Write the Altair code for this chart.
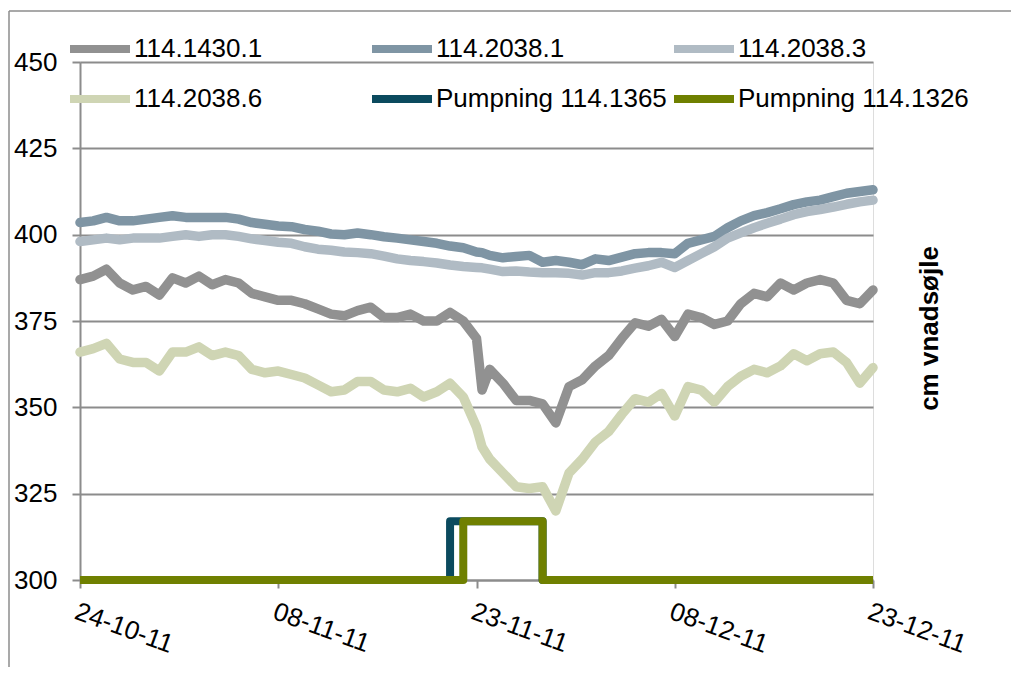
import altair as alt
import pandas as pd

START = "2011-10-24"

# day offsets from 24-10-11 of the readings
DAYS = [0, 1, 2, 3, 4, 5, 6, 7, 8, 9, 10, 11, 12, 13, 14, 15, 16, 17, 18, 19, 20,
        21, 22, 23, 24, 25, 26, 27, 28, 29, 30, 30.42, 31, 32, 33, 34, 35, 36, 37,
        38, 39, 40, 41, 42, 43, 44, 45, 46, 47, 48, 49, 50, 51, 52, 53, 54, 55, 56,
        57, 58, 59, 60]

S_1430_1 = [387, 388, 390, 386, 384, 385, 382.5, 387.5, 386, 388, 385.5, 387, 386, 383,
            382, 381, 381, 380, 378.5, 377, 376.5, 378, 379, 376, 376, 377, 375, 375,
            377.5, 375, 370, 355, 361, 357, 352, 352, 351, 345.5, 356, 358, 362, 365,
            370, 374.5, 373.5, 375.5, 370.5, 377, 376, 374, 375, 380, 383, 382, 386,
            384, 386, 387, 386, 381, 380, 384]

S_2038_1 = [403.5, 404, 405, 404, 404, 404.5, 405, 405.5, 405, 405, 405, 405, 404.5,
            403.5, 403, 402.5, 402.3, 401.5, 401, 400.2, 400, 400.5, 400, 399.4, 399,
            398.5, 398, 397.5, 396.7, 396.2, 395, 394.8, 394, 393.3, 393.7, 394, 392,
            392.5, 392, 391.3, 393, 392.5, 393.5, 394.5, 394.8, 394.8, 394.5, 397.5,
            398.5, 399.5, 402, 404, 405.5, 406.4, 407.5, 408.7, 409.5, 410, 411, 412,
            412.5, 413]

S_2038_3 = [398, 398.5, 399, 398.5, 399, 399, 399, 399.5, 400, 399.5, 400, 400, 399.5,
            398.8, 398.3, 397.8, 397.5, 396.5, 395.8, 395.5, 395, 394.8, 394.5, 393.8,
            393, 392.5, 392.2, 391.8, 391.2, 390.8, 390.5, 390.4, 390, 389.3, 389.5,
            389.2, 389, 389, 388.8, 388.3, 389, 389, 389.5, 390.3, 391, 392, 390.5,
            392.5, 394.5, 396.5, 399, 400.5, 402, 403.3, 404.5, 405.8, 406.7, 407.3,
            408, 408.8, 409.5, 410]

S_2038_6 = [366, 367, 368.5, 364, 363, 363, 360.5, 366, 366, 367.5, 365, 366, 365, 361,
            360, 360.5, 359.5, 358.5, 356.5, 354.5, 355, 357.5, 357.5, 355, 354.5,
            355.5, 353, 354.5, 357, 353, 344.3, 338.5, 335, 331, 327, 326.5, 327, 320,
            331, 335, 340, 343, 348, 352.5, 351.5, 354, 347.5, 356, 355, 351.5, 356,
            359, 361, 360, 362, 365.5, 363.5, 365.5, 366, 363, 357, 361.5]

PUMP_1365_DAYS = [0, 28, 35, 60]
PUMP_1365 = [300, 317, 300, 300]
PUMP_1326_DAYS = [0, 29, 35, 60]
PUMP_1326 = [300, 317, 300, 300]

NAMES = ["114.1430.1", "114.2038.1", "114.2038.3", "114.2038.6",
         "Pumpning 114.1365", "Pumpning 114.1326"]
COLORS = ["#919191", "#7f95a4", "#b0bbc4", "#cfd5b4", "#0b4a5e", "#6f8000"]

Y_TICKS = [300, 325, 350, 375, 400, 425, 450]

FONT = "Liberation Sans"
GRID = "#8c8c8c"

t0 = pd.Timestamp(START)


def to_dates(days):
    return [t0 + pd.Timedelta(days=d) for d in days]


rows = []
for name, vals in zip(NAMES[:4], [S_1430_1, S_2038_1, S_2038_3, S_2038_6]):
    for dt, v in zip(to_dates(DAYS), vals):
        rows.append({"date": dt, "value": v, "series": name, "k": NAMES.index(name)})
meas = pd.DataFrame(rows)

prow = []
for name, ds, vals in [(NAMES[4], PUMP_1365_DAYS, PUMP_1365), (NAMES[5], PUMP_1326_DAYS, PUMP_1326)]:
    for dt, v in zip(to_dates(ds), vals):
        prow.append({"date": dt, "value": v, "series": name, "k": NAMES.index(name)})
pump = pd.DataFrame(prow)


def D(y, m, d):
    return alt.DateTime(year=y, month=m, date=d)


x = alt.X(
    "date:T",
    scale=alt.Scale(domain=[D(2011, 10, 24), D(2011, 12, 23)]),
    axis=alt.Axis(
        values=[D(2011, 10, 24), D(2011, 11, 8), D(2011, 11, 23), D(2011, 12, 8), D(2011, 12, 23)],
        format="%d-%m-%y", labelAngle=20, labelAlign="left", labelBaseline="top",
        labelPadding=10, tickSize=8, grid=False, domainColor=GRID, tickColor=GRID,
        domainWidth=2, tickWidth=2, labelOverlap=False, labelFontSize=26,
        labelFont=FONT, labelColor="#000000", title=None, labelBound=False,
    ),
)
y = alt.Y(
    "value:Q",
    scale=alt.Scale(domain=[300, 450], nice=False, zero=False),
    axis=alt.Axis(
        values=Y_TICKS, tickSize=8, labelPadding=15, grid=True, gridColor=GRID,
        gridWidth=2, domainColor=GRID, tickColor=GRID, domainWidth=2, tickWidth=2,
        labelFontSize=26, labelFont=FONT, labelColor="#000000",
        title="cm vnadsøjle", titleX=849, titleY=266, titleAngle=270,
        titleAlign="center", titleBaseline="middle", titleFontWeight="bold",
        titleFontSize=26, titleFont=FONT, titleColor="#000000",
    ),
)
color = alt.Color(
    "series:N",
    scale=alt.Scale(domain=NAMES, range=COLORS),
    sort=NAMES,
    legend=alt.Legend(
        orient="none", legendX=-14, legendY=-47, direction="horizontal", columns=3,
        gridAlign="all", columnPadding=-9, rowPadding=-2, symbolType="stroke",
        symbolSize=3600, symbolStrokeWidth=8, labelFontSize=26, labelFont=FONT,
        labelColor="#000000", labelOffset=0, title=None, padding=0, labelLimit=400,
    ),
)

lines = alt.Chart(meas).mark_line(strokeWidth=9.5, strokeCap="round", strokeJoin="round").encode(
    x=x, y=y, color=color, order="k:Q"
)
pumps = alt.Chart(pump).mark_line(interpolate="step-after", strokeWidth=8, strokeJoin="round").encode(
    x=x, y=y, color=color
)

frame_data = alt.Data(values=[{}])
left_edge = alt.Chart(frame_data).mark_rule(color="#8c8c8c", strokeWidth=1.5).encode(
    x=alt.value(-71), y=alt.value(-51), y2=alt.value(620)
)
top_edge = alt.Chart(frame_data).mark_rule(color="#8c8c8c", strokeWidth=1.5).encode(
    x=alt.value(-71), x2=alt.value(940), y=alt.value(-51)
)

chart = alt.layer(left_edge, top_edge, lines, pumps).properties(
    width=793, height=518,
    autosize=alt.AutoSizeParams(type="none"),
    padding={"left": 72, "top": 54, "right": 138, "bottom": 87},
).configure_view(stroke=GRID, strokeWidth=2).configure(background="white")

chart.save("out.html", embed_options={"renderer": "svg", "actions": False})
